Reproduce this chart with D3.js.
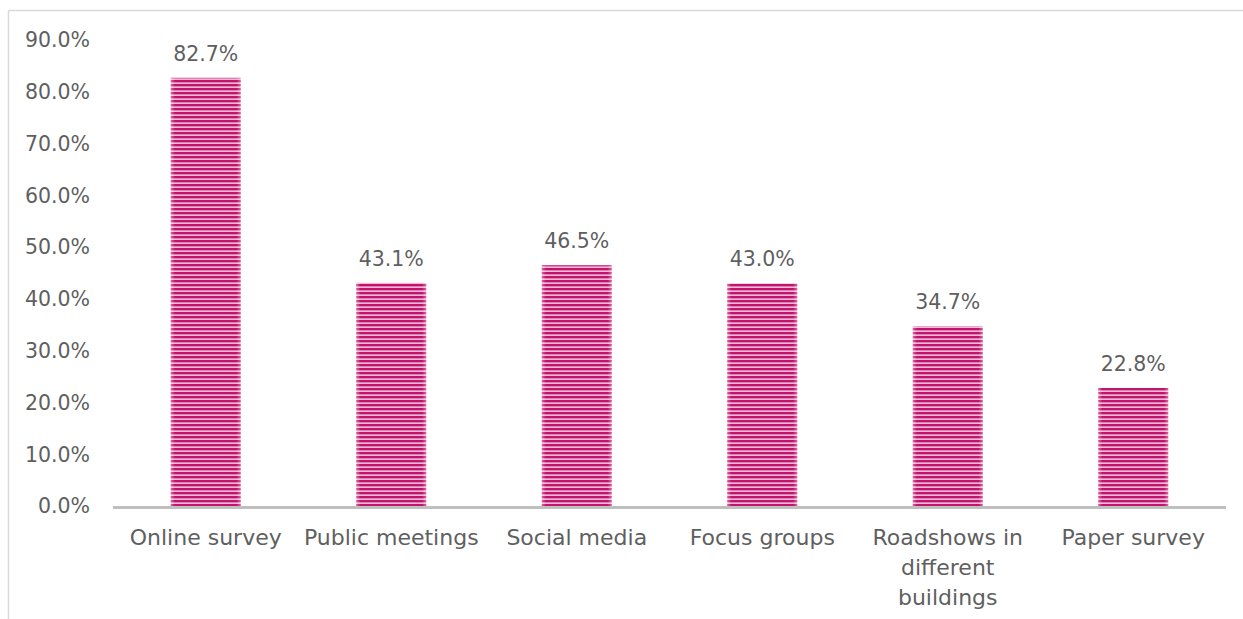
<!DOCTYPE html>
<html>
<head>
<meta charset="utf-8">
<script src="https://cdn.jsdelivr.net/npm/d3@7"></script>
<style>
  html, body { margin: 0; padding: 0; background: #fff; }
  svg text { font-family: "DejaVu Sans", sans-serif; fill: #5f5f5f; }
</style>
</head>
<body>
<div id="chart"></div>
<script>
// values
var categories = [
  ['Online survey'],
  ['Public meetings'],
  ['Social media'],
  ['Focus groups'],
  ['Roadshows in', 'different', 'buildings'],
  ['Paper survey']
];
var shares = [82.7, 43.1, 46.5, 43.0, 34.7, 22.8];
var yTicks = [0, 10, 20, 30, 40, 50, 60, 70, 80, 90];

var width = 1243,
    height = 619,
    plotLeft = 113,
    plotRight = 1226,
    plotTop = 40,
    plotBottom = 506;

var svg = d3.select('#chart')
  .append('svg')
    .attr('width', width)
    .attr('height', height);

// striped fill
var defs = svg.append('defs');
var pat = defs.append('pattern')
    .attr('id', 'stripes')
    .attr('patternUnits', 'userSpaceOnUse')
    .attr('width', 8)
    .attr('height', 4);
pat.append('rect').attr('width', 8).attr('height', 4).attr('fill', '#f5bad6');
pat.append('rect').attr('y', 0).attr('width', 8).attr('height', 2).attr('fill', '#c0146e');
pat.append('rect').attr('y', 2).attr('width', 8).attr('height', 0.6).attr('fill', '#dc5598');

// soft edges on each side of the bars
var edge = defs.append('linearGradient').attr('id', 'edge');
edge.append('stop').attr('offset', '0').attr('stop-color', '#fff').attr('stop-opacity', 0.35);
edge.append('stop').attr('offset', '0.06').attr('stop-color', '#fff').attr('stop-opacity', 0);
edge.append('stop').attr('offset', '0.94').attr('stop-color', '#fff').attr('stop-opacity', 0);
edge.append('stop').attr('offset', '1').attr('stop-color', '#fff').attr('stop-opacity', 0.35);

// chart frame (only top and left edges show)
svg.append('line')
  .attr('x1', 8.5).attr('y1', 10.5).attr('x2', width).attr('y2', 10.5)
  .attr('stroke', '#d9d9d9').attr('stroke-width', 1.5);
svg.append('line')
  .attr('x1', 8.5).attr('y1', 10.5).attr('x2', 8.5).attr('y2', height)
  .attr('stroke', '#d9d9d9').attr('stroke-width', 1.5);

var x = d3.scaleBand()
    .domain(d3.range(categories.length))
    .range([plotLeft, plotRight])
    .paddingInner(0.623)
    .paddingOuter(0.3115);

var y = d3.scaleLinear()
    .domain([0, 90])
    .range([plotBottom, plotTop]);

// y labels
svg.append('g')
  .selectAll('text')
  .data(yTicks)
  .enter()
    .append('text')
      .attr('x', 90)
      .attr('y', function(d) { return y(d); })
      .attr('dy', '0.36em')
      .attr('text-anchor', 'end')
      .style('font-size', '20.5px')
      .text(function(d) { return d.toFixed(1) + '%'; });

// bars
var bars = svg.append('g')
  .selectAll('g')
  .data(shares)
  .enter()
    .append('g');
bars.append('rect')
  .attr('x', function(d, i) { return x(i); })
  .attr('y', function(d) { return y(d); })
  .attr('width', x.bandwidth())
  .attr('height', function(d) { return plotBottom - y(d); })
  .attr('fill', 'url(#stripes)');
bars.append('rect')
  .attr('x', function(d, i) { return x(i); })
  .attr('y', function(d) { return y(d); })
  .attr('width', x.bandwidth())
  .attr('height', function(d) { return plotBottom - y(d); })
  .attr('fill', 'url(#edge)');

// value labels
bars.append('text')
  .attr('x', function(d, i) { return x(i) + x.bandwidth() / 2; })
  .attr('y', function(d) { return y(d) - 17; })
  .attr('text-anchor', 'middle')
  .style('font-size', '20.5px')
  .text(function(d) { return d.toFixed(1) + '%'; });

// axis line
svg.append('line')
  .attr('x1', plotLeft).attr('x2', plotRight)
  .attr('y1', plotBottom + 1.5).attr('y2', plotBottom + 1.5)
  .attr('stroke', '#bfbfbf').attr('stroke-width', 3);

// category labels
var catText = svg.append('g')
  .selectAll('text')
  .data(categories)
  .enter()
    .append('text')
      .attr('text-anchor', 'middle')
      .attr('x', function(d, i) { return x(i) + x.bandwidth() / 2; })
      .attr('y', plotBottom + 39)
      .style('font-size', '22px');
catText.selectAll('tspan')
  .data(function(d) { return d; })
  .enter()
    .append('tspan')
      .attr('x', function() { return d3.select(this.parentNode).attr('x'); })
      .attr('dy', function(d, i) { return i === 0 ? 0 : 30; })
      .text(function(d) { return d; });
</script>
</body>
</html>
